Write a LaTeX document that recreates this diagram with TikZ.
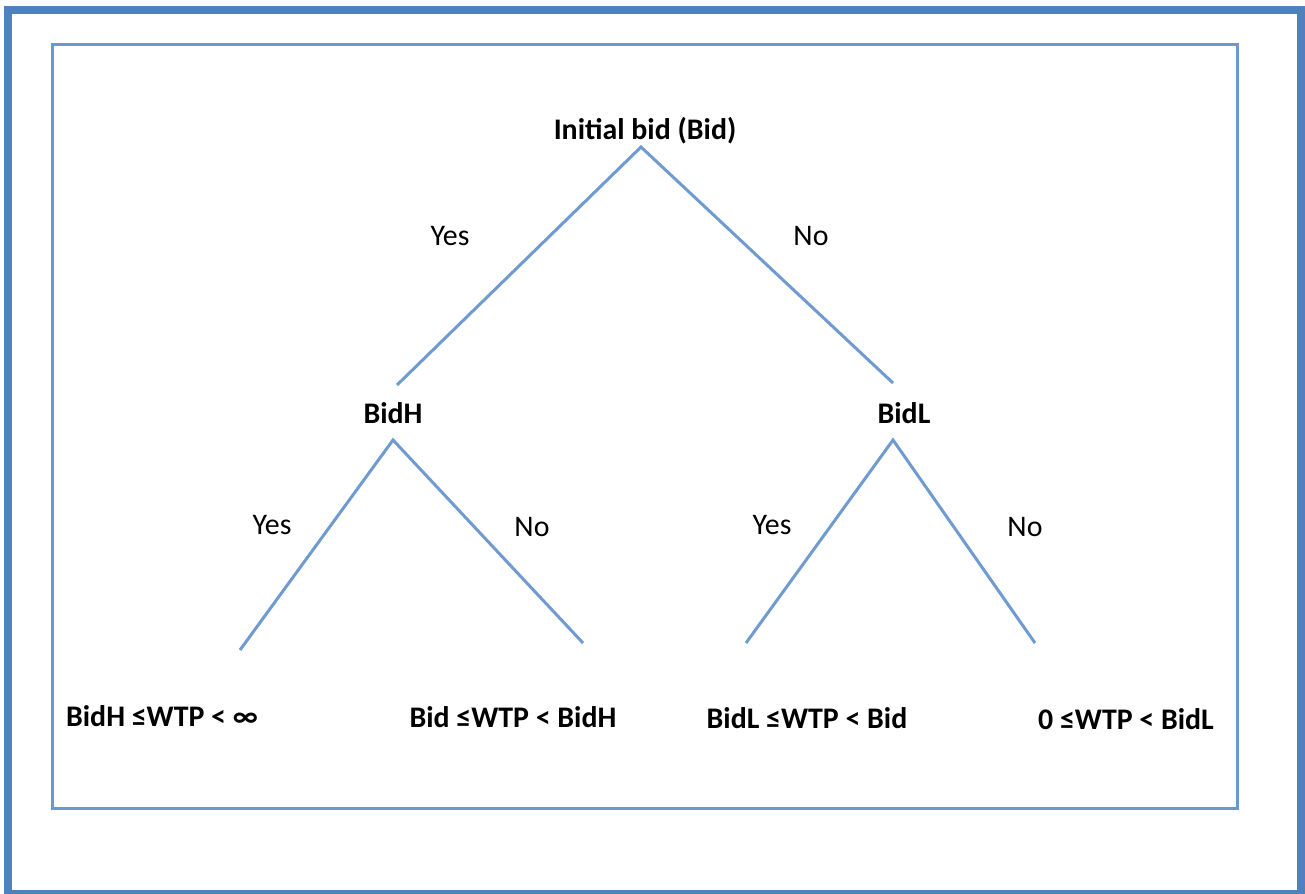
\documentclass[tikz,border=0pt]{standalone}
\usepackage{fontspec}
\setmainfont{Carlito}
\usepackage{tikz}
\usetikzlibrary{shadows}
\definecolor{FrameBlue}{HTML}{4F81BD}
\definecolor{BranchBlue}{HTML}{6F9BD0}
\definecolor{BoxBlue}{HTML}{6A98D0}
\tikzset{
  figure/.style={x=0.02cm,y=-0.02cm,font=\fontsize{17}{20}\selectfont},
  choice/.style={font=\fontsize{17}{20}\selectfont\bfseries,inner sep=0pt,outer sep=0pt},
  answer/.style={font=\fontsize{17}{20}\selectfont,inner sep=0pt},
  outcome/.style={font=\fontsize{17}{20}\selectfont\bfseries,inner sep=0pt},
  branch/.style={draw=BranchBlue,line width=0.06cm},
}
\begin{document}
\begin{tikzpicture}[figure]
  \useasboundingbox (0,0) rectangle (1305,893);
  \fill[white] (0,0) rectangle (1305,893);
  \draw[FrameBlue,line width=0.16cm] (8,10) rectangle (1301,894);
  \draw[BoxBlue,line width=0.06cm,fill=white,
    drop shadow={opacity=0.25,shadow xshift=0.5pt,shadow yshift=-0.8pt}]
    (52,44) rectangle (1237,808);

  % decision nodes
  \node[choice] (root) at (645,131) {Initial bid (Bid)};
  \node[choice] (bidH) at (393,413) {BidH};
  \node[choice] (bidL) at (904,413) {BidL};

  % ends of the branches
  \coordinate (rootFoot) at (641,147);
  \coordinate (hEnd) at (397,385);
  \coordinate (lEnd) at (893,383);
  \coordinate (hTop) at (393,440);
  \coordinate (lTop) at (893,440);
  \coordinate (hYes) at (240,650);
  \coordinate (hNo)  at (583,643);
  \coordinate (lYes) at (746,643);
  \coordinate (lNo)  at (1035,643);

  \draw[branch] (hEnd) -- (rootFoot) -- (lEnd);
  \draw[branch] (hYes) -- (hTop) -- (hNo);
  \draw[branch] (lYes) -- (lTop) -- (lNo);

  \node[answer] at (450,236) {Yes};
  \node[answer] at (811,236) {No};
  \node[answer] at (272,525) {Yes};
  \node[answer] at (532,527) {No};
  \node[answer] at (772,525) {Yes};
  \node[answer] at (1025,527) {No};

  % intervals of WTP
  \node[outcome] (leafA) at (162,716) {BidH ≤WTP < ∞};
  \node[outcome] (leafB) at (513,717) {Bid ≤WTP < BidH};
  \node[outcome] (leafC) at (807,718) {BidL ≤WTP < Bid};
  \node[outcome] (leafD) at (1126,719) {0 ≤WTP < BidL};
\end{tikzpicture}
\end{document}
